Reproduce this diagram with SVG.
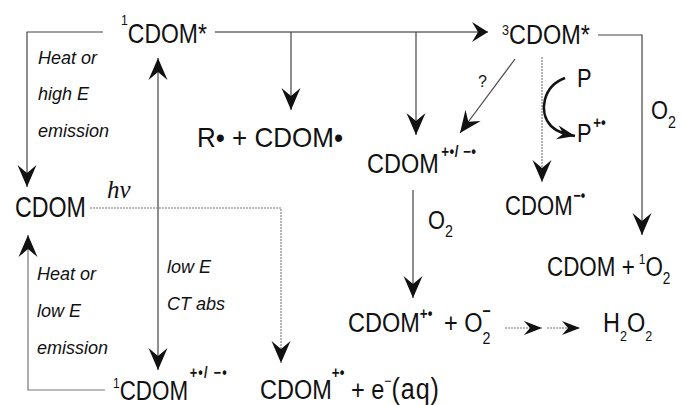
<svg xmlns="http://www.w3.org/2000/svg" width="685" height="405" viewBox="0 0 685 405">
<style>
text{font-family:"Liberation Sans",Arial,sans-serif;fill:#111}
.m{font-size:28px}
.p{font-size:26px}
.sup{font-size:15px}
.b{font-size:16px;font-weight:bold}
.sub{font-size:17px}
.i{font-size:18px;font-style:italic}
.hv{font-family:"Liberation Serif","Times New Roman",serif;font-style:italic;font-size:25px}
.q{font-size:16px}
.c{fill:none;stroke:#444;stroke-width:1.2}
.d{fill:none;stroke:#777;stroke-width:1.1;stroke-dasharray:2 1}
.k{fill:none;stroke:#111;stroke-width:2.6}
</style>
<defs>
<marker id="big" markerUnits="userSpaceOnUse" viewBox="-23 -10 24 20" markerWidth="24" markerHeight="20" refX="0" refY="0" orient="auto-start-reverse">
<path d="M0,0 L-22,-9.5 L-14,0 L-22,9.5 Z" fill="#111"/>
</marker>
<marker id="wide" markerUnits="userSpaceOnUse" viewBox="-17 -11 18 22" markerWidth="18" markerHeight="22" refX="0" refY="0" orient="auto">
<path d="M0,0 L-16,-10 L-10,0 L-16,10 Z" fill="#111"/>
</marker>
<marker id="med" markerUnits="userSpaceOnUse" viewBox="-19 -8 20 16" markerWidth="20" markerHeight="16" refX="0" refY="0" orient="auto">
<path d="M0,0 L-18,-7 L-12,0 L-18,7 Z" fill="#111"/>
</marker>
</defs>
<rect width="685" height="405" fill="#fff"/>

<g id="connectors">
<polyline class="c" points="103,32 27,32 27,187" marker-end="url(#big)"/>
<line class="c" x1="215" y1="32" x2="488" y2="32" marker-end="url(#wide)" style="stroke:#222"/>
<line class="c" x1="291" y1="32" x2="291" y2="110" marker-end="url(#big)"/>
<line class="c" x1="416" y1="32" x2="416" y2="135" marker-end="url(#big)"/>
<polyline class="c" points="598,35 642,35 642,235" marker-end="url(#big)"/>
<line class="c" x1="515" y1="59" x2="460" y2="133" marker-end="url(#big)"/>
<line class="d" x1="542" y1="57" x2="542" y2="182" marker-end="url(#big)"/>
<path class="k" d="M565,78 C543,86 538,112 551,126 C557,132 565,134 575,136" marker-end="url(#med)"/>
<line class="c" x1="158" y1="58" x2="158" y2="370" marker-start="url(#big)" marker-end="url(#big)"/>
<polyline class="d" points="90,208 281,208 281,363" marker-end="url(#big)"/>
<polyline class="c" points="105,390 28,390 28,235" marker-end="url(#big)" style="stroke:#777"/>
<line class="c" x1="413" y1="190" x2="413" y2="298" marker-end="url(#big)"/>
<line class="d" x1="505" y1="328" x2="542" y2="328" marker-end="url(#med)"/>
<line class="d" x1="547" y1="328" x2="580" y2="328" marker-end="url(#med)"/>
</g>

<g id="n-1cdom-star">
<text class="m" transform="translate(121 43) scale(0.82 1)"><tspan class="sup" dy="-18">1</tspan><tspan dy="18">CDOM*</tspan></text>
</g>
<g id="n-3cdom-star">
<text class="m" transform="translate(502 44) scale(0.84 1)"><tspan class="sup" dy="-9">3</tspan><tspan dy="9">CDOM*</tspan></text>
</g>
<g id="n-radicals">
<text class="m" x="197" y="147" textLength="146" lengthAdjust="spacingAndGlyphs">R• + CDOM•</text>
</g>
<g id="n-cdom">
<text class="m" transform="translate(15 217) scale(0.8 1)" style="font-size:29px">CDOM</text>
<text class="hv" x="107" y="198">hν</text>
</g>
<g id="n-cdom-ion">
<text class="m" transform="translate(367 173) scale(0.84 1)">CDOM<tspan class="b" dx="3" dy="-16" letter-spacing="0.5">+•/ −•</tspan></text>
</g>
<g id="n-cdom-minus">
<text class="m" transform="translate(505 215) scale(0.79 1)">CDOM<tspan class="b" dx="1" dy="-14">−•</tspan></text>
</g>
<g id="n-p">
<text class="p" transform="translate(577 87) scale(0.84 1)">P</text>
<text class="p" transform="translate(577 142) scale(0.84 1)">P<tspan class="b" dx="2" dy="-14">+•</tspan></text>
</g>
<g id="n-singlet-o2">
<text class="m" transform="translate(547 276) scale(0.8 1)">CDOM +<tspan class="sup" dx="5" dy="-12">1</tspan><tspan dy="12">O</tspan><tspan class="sub" dy="8">2</tspan></text>
</g>
<g id="n-superoxide">
<text class="m" transform="translate(348 332) scale(0.84 1)">CDOM<tspan class="b" dy="-13">+•</tspan><tspan dx="6" dy="13"> + O</tspan><tspan class="sub" dy="12">2</tspan><tspan class="sub" dx="-9.5" dy="-27" style="font-weight:bold">−</tspan></text>
</g>
<g id="n-h2o2">
<text class="m" transform="translate(603 332) scale(0.84 1)">H<tspan class="sup" dy="9">2</tspan><tspan dy="-9">O</tspan><tspan class="sup" dy="9">2</tspan></text>
</g>
<g id="n-electron">
<text class="m" transform="translate(260 399) scale(0.84 1)">CDOM<tspan class="b" dy="-21">+•</tspan><tspan dy="21"> + e</tspan><tspan class="sup" dy="-13">−</tspan><tspan dy="13" style="font-size:30px" letter-spacing="1">(aq)</tspan></text>
</g>
<g id="n-1cdom-ion">
<text class="m" transform="translate(113 400) scale(0.8 1)"><tspan class="sup" dy="-12">1</tspan><tspan dy="12">CDOM</tspan><tspan class="b" dx="2" dy="-22" letter-spacing="1.5">+•/ −•</tspan></text>
</g>

<g id="labels">
<text class="i" x="38" y="64">Heat or</text>
<text class="i" x="38" y="100">high E</text>
<text class="i" x="38" y="137">emission</text>
<text class="i" x="37" y="280">Heat or</text>
<text class="i" x="37" y="317">low E</text>
<text class="i" x="37" y="354">emission</text>
<text class="i" x="167" y="273">low E</text>
<text class="i" x="167" y="310">CT abs</text>
<text class="q" x="478" y="87">?</text>
<text class="p" transform="translate(651 119) scale(0.84 1)">O<tspan class="sub" dy="9">2</tspan></text>
<text class="p" transform="translate(428 229) scale(0.84 1)">O<tspan class="sub" dy="8">2</tspan></text>
</g>
</svg>
